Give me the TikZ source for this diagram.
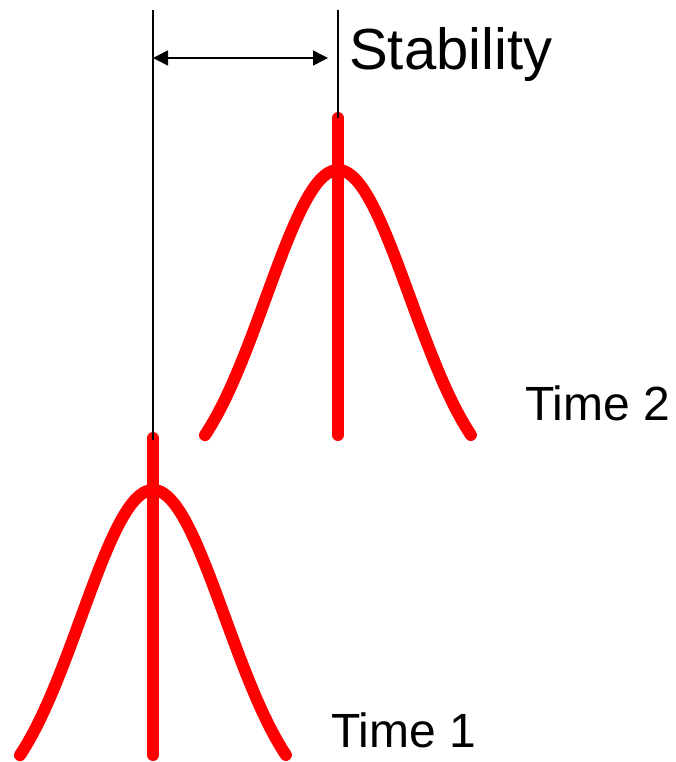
\documentclass[tikz,border=0pt]{standalone}
\usepackage{fontspec}
\setmainfont{Liberation Sans}
\usetikzlibrary{arrows.meta}
\tikzset{
  guide/.style={black, line width=1.5pt},
  curve/.style={red, line width=12pt, line cap=round, line join=round},
  dimarrow/.style={black, line width=1.5pt, {Triangle[length=15pt,width=15pt]}-{Triangle[length=15pt,width=15pt]}},
  biglabel/.style={anchor=base west, inner sep=0pt, font=\fontsize{58}{60}\selectfont},
  timelabel/.style={anchor=base west, inner sep=0pt, font=\fontsize{48}{50}\selectfont}
}
\begin{document}
\begin{tikzpicture}[x=1pt,y=-1pt]
\useasboundingbox (0,0) rectangle (675,762);
% named coordinates
\coordinate (g1top) at (153,10);
\coordinate (g1bot) at (153,440);
\coordinate (g2top) at (338,10);
\coordinate (g2bot) at (338,118);
\coordinate (a1) at (153,58);
\coordinate (a2) at (328,58);
\coordinate (s1top) at (153,438);
\coordinate (s1bot) at (153,755);
\coordinate (s2top) at (338,118);
\coordinate (s2bot) at (338,435);
% red curves
\draw[curve] plot[domain=-1.33:1.33, samples=90, smooth] ({338+100*\x},{170+323.96*(1-exp(-\x*\x/1.0368))});
\draw[curve] plot[domain=-1.33:1.33, samples=90, smooth] ({153+100*\x},{490+323.96*(1-exp(-\x*\x/1.0368))});
\draw[curve] (s2top) -- (s2bot);
\draw[curve] (s1top) -- (s1bot);
% guide lines
\draw[guide] (g1top) -- (g1bot);
\draw[guide] (g2top) -- (g2bot);
\draw[dimarrow] (a1) -- (a2);
% labels
\node[biglabel] (stab) at (349,70) {Stability};
\node[timelabel] (t2) at (525,420) {Time 2};
\node[timelabel] (t1) at (331,747) {Time 1};
\end{tikzpicture}
\end{document}
